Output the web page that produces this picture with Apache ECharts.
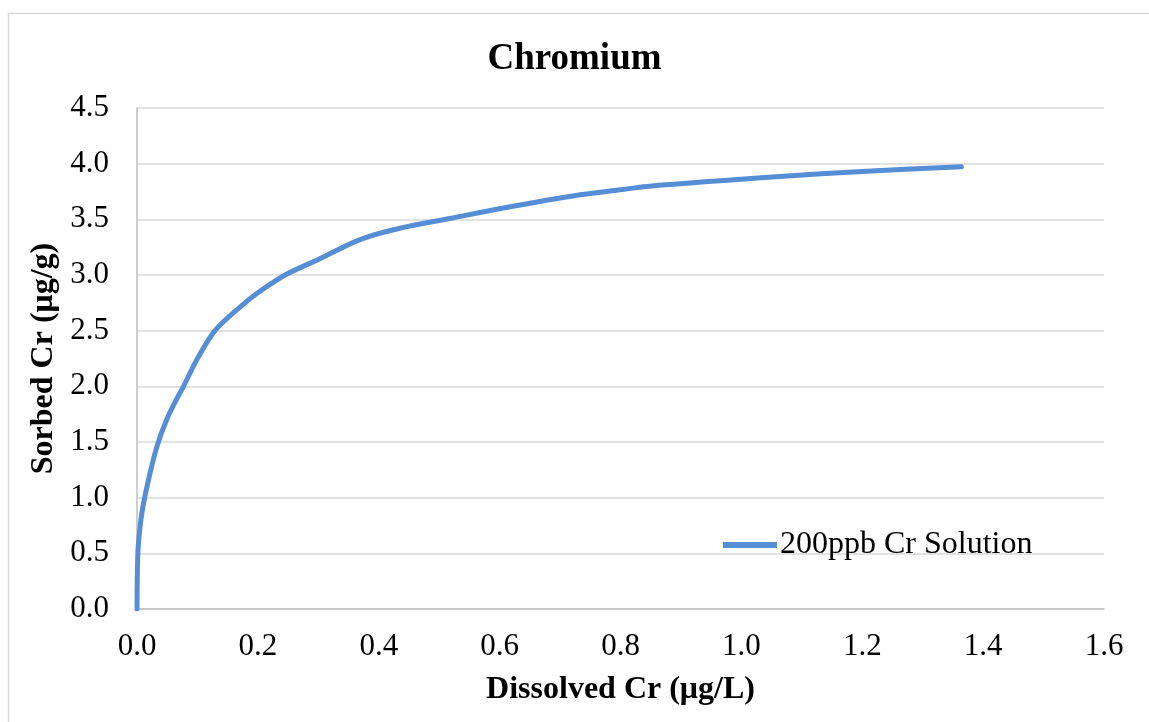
<!DOCTYPE html>
<html>
<head>
<meta charset="utf-8">
<title>Chromium</title>
<script src="https://cdn.jsdelivr.net/npm/echarts@6/dist/echarts.min.js"></script>
<style>
  html, body { margin: 0; padding: 0; background: #ffffff; }
  #chart { width: 1149px; height: 722px; }
</style>
</head>
<body>
<div id="chart"></div>
<script>
// Sorption isotherm for chromium: dissolved vs. sorbed concentration
const seriesName = '200ppb Cr Solution';
const dissolvedCr = [0, 0.0005, 0.002, 0.008, 0.019, 0.033, 0.049, 0.066, 0.077, 0.1, 0.129, 0.17, 0.2, 0.245, 0.3, 0.37, 0.435, 0.52, 0.6, 0.733, 0.8, 0.843, 1.0, 1.064, 1.2, 1.364];
const sorbedCr    = [0, 0.30,   0.56,  0.86,  1.16,  1.46,  1.70,  1.89,  2.00,  2.25, 2.50,  2.71, 2.84, 3.00,  3.14, 3.32,  3.42,  3.51, 3.595, 3.72, 3.765, 3.795, 3.86, 3.885, 3.93, 3.973];

const xTicks = ['0.0', '0.2', '0.4', '0.6', '0.8', '1.0', '1.2', '1.4', '1.6'];
const yTicks = ['0.0', '0.5', '1.0', '1.5', '2.0', '2.5', '3.0', '3.5', '4.0', '4.5'];

const points = dissolvedCr.map((x, i) => [x, sorbedCr[i]]);
const serif = '"Liberation Serif", "DejaVu Serif", serif';

const chart = echarts.init(document.getElementById('chart'), null, { renderer: 'canvas' });

chart.setOption({
  backgroundColor: '#ffffff',
  animation: false,
  textStyle: { fontFamily: serif },
  title: {
    text: 'Chromium',
    left: 'center',
    top: 36,
    textStyle: { fontFamily: serif, fontWeight: 'bold', fontSize: 37, color: '#000000' }
  },
  graphic: [
    { type: 'line', shape: { x1: 8, y1: 13.5, x2: 1149, y2: 13.5 }, style: { stroke: '#d9d9d9', lineWidth: 1.5 } },
    { type: 'line', shape: { x1: 8.5, y1: 13, x2: 8.5, y2: 722 }, style: { stroke: '#d9d9d9', lineWidth: 1.5 } }
  ],
  legend: {
    left: 718,
    top: 524,
    itemWidth: 54,
    itemHeight: 6,
    itemGap: 0,
    data: [{ name: seriesName, icon: 'path://M0,0 L54,0 L54,6 L0,6 Z' }],
    textStyle: { fontFamily: serif, fontSize: 32, color: '#000000', padding: [0, 0, 0, -2] }
  },
  grid: { left: 137, right: 45, top: 108, bottom: 113 },
  xAxis: {
    type: 'value',
    min: 0,
    max: 1.6,
    interval: 0.2,
    name: 'Dissolved Cr (μg/L)',
    nameLocation: 'middle',
    nameGap: 65,
    nameTextStyle: { fontFamily: serif, fontWeight: 'bold', fontSize: 32, color: '#000000' },
    axisLine: { show: true, lineStyle: { color: '#bfbfbf', width: 1.5 } },
    axisTick: { show: false },
    splitLine: { show: false },
    axisLabel: {
      fontFamily: serif, fontSize: 31, color: '#000000', margin: 22,
      formatter: (v) => xTicks[Math.round(v / 0.2)]
    }
  },
  yAxis: {
    type: 'value',
    min: 0,
    max: 4.5,
    interval: 0.5,
    name: 'Sorbed Cr (μg/g)',
    nameLocation: 'middle',
    nameGap: 76,
    nameTextStyle: { fontFamily: serif, fontWeight: 'bold', fontSize: 32, color: '#000000' },
    axisLine: { show: true, lineStyle: { color: '#bfbfbf', width: 1.5 } },
    axisTick: { show: false },
    splitLine: { show: true, lineStyle: { color: '#d9d9d9', width: 1.5 } },
    axisLabel: {
      fontFamily: serif, fontSize: 31, color: '#000000', margin: 28,
      formatter: (v) => yTicks[Math.round(v / 0.5)]
    }
  },
  series: [{
    name: seriesName,
    type: 'line',
    data: points,
    smooth: 0.3,
    showSymbol: false,
    symbol: 'none',
    lineStyle: { color: '#558ed5', width: 5, cap: 'round', join: 'round' },
    itemStyle: { color: '#558ed5' }
  }]
});
</script>
</body>
</html>
